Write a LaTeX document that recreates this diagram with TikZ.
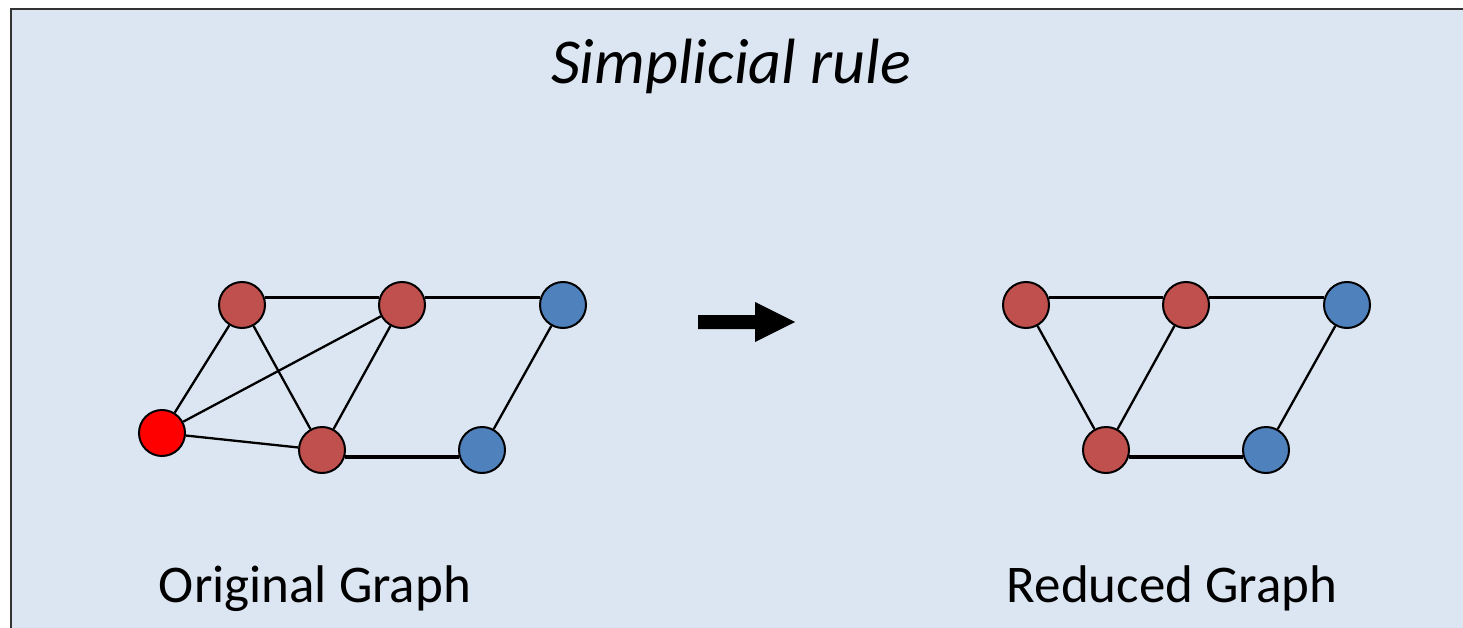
\documentclass[tikz,border=0pt]{standalone}
\usepackage{fontspec}
\setmainfont{Carlito}
\definecolor{panelbg}{HTML}{DCE6F2}
\definecolor{framecol}{HTML}{333333}
\definecolor{darkred}{HTML}{C0504D}
\definecolor{brightred}{HTML}{FF0000}
\definecolor{steelblue}{HTML}{4F81BD}
\tikzset{
  vtx/.style={circle, draw=black, line width=2pt, minimum size=46pt, inner sep=0pt},
  redv/.style={vtx, fill=darkred},
  hotv/.style={vtx, fill=brightred},
  bluev/.style={vtx, fill=steelblue},
  hedge/.style={line width=3.3pt},
  dedge/.style={line width=2.3pt},
  caption/.style={anchor=base, inner sep=0pt, font=\fontsize{53}{60}\selectfont},
}
\begin{document}
\begin{tikzpicture}[x=1pt, y=-1pt]
\useasboundingbox (0,0) rectangle (1463,628);
\clip (0,0) rectangle (1463,628);
% panel
\draw[framecol, line width=2pt, fill=panelbg] (10.5,9.5) rectangle (1480,650);

% title
\node[anchor=base, inner sep=0pt, font=\fontsize{64}{72}\selectfont\itshape] (title) at (731,84) {Simplicial rule};

% original graph
\node[redv]  (a) at (242,305) {};
\node[redv]  (b) at (402,305) {};
\node[bluev] (c) at (563,305) {};
\node[hotv]  (d) at (162,433) {};
\node[redv]  (e) at (322,450) {};
\node[bluev] (f) at (482,450) {};

% reduced graph
\node[redv]  (ra) at (1026,305) {};
\node[redv]  (rb) at (1186,305) {};
\node[bluev] (rc) at (1347,305) {};
\node[redv]  (re) at (1106,450) {};
\node[bluev] (rf) at (1266,450) {};

% edges of the original graph (horizontal ones sit slightly off-centre)
\draw[hedge] (a.19) -- (b.161);
\draw[hedge] (b.19) -- (c.161);
\draw[hedge] (e.-17) -- (f.197);
\draw[dedge] (a) -- (d);
\draw[dedge] (a) -- (e);
\draw[dedge] (d) -- (b);
\draw[dedge] (d) -- (e);
\draw[dedge] (b) -- (e);
\draw[dedge] (c) -- (f);

% edges of the reduced graph
\draw[hedge] (ra.19) -- (rb.161);
\draw[hedge] (rb.19) -- (rc.161);
\draw[hedge] (re.-17) -- (rf.197);
\draw[dedge] (ra) -- (re);
\draw[dedge] (rb) -- (re);
\draw[dedge] (rc) -- (rf);

% block arrow
\fill[black] (698,315) -- (755,315) -- (755,302) -- (795,322) -- (755,342) -- (755,329) -- (698,329) -- cycle;

% captions
\node[caption] (orig) at (315,602) {Original Graph};
\node[caption] (red) at (1172,602) {Reduced Graph};
\end{tikzpicture}
\end{document}
